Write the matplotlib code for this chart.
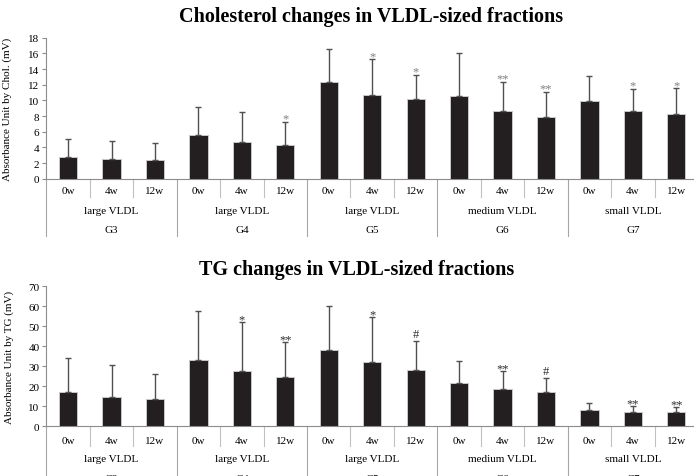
import numpy as np
import matplotlib
matplotlib.use("Agg")
import matplotlib.pyplot as plt

plt.rcParams['font.family'] = ['Liberation Serif', 'DejaVu Serif']

# Categories
groups = ['G3', 'G4', 'G5', 'G6', 'G7']
sizes = ['large VLDL', 'large VLDL', 'large VLDL', 'medium VLDL', 'small VLDL']
weeks = ['0w', '4w', '12w']

# Cholesterol (mV): mean, upper SD, significance marks
chol_mean = [2.8, 2.5, 2.4, 5.6, 4.7, 4.3, 12.3, 10.7, 10.2, 10.6, 8.6, 7.9, 9.9, 8.6, 8.2]
chol_sd = [2.3, 2.3, 2.1, 3.5, 3.8, 3.0, 4.3, 4.6, 3.1, 5.5, 3.8, 3.2, 3.2, 2.9, 3.4]
chol_sig = ['', '', '', '', '', '*', '', '*', '*', '', '**', '**', '', '*', '*']

# TG (mV)
tg_mean = [17.3, 14.7, 13.5, 33.2, 27.7, 24.7, 38.0, 32.0, 28.0, 21.8, 18.5, 17.0, 8.3, 7.3, 7.0]
tg_sd = [16.7, 15.8, 12.7, 24.5, 24.5, 17.3, 22.3, 22.5, 14.8, 11.0, 9.0, 7.2, 3.5, 2.7, 2.5]
tg_sig = ['', '', '', '', '*', '**', '', '*', '#', '', '**', '#', '', '**', '**']

W, H, DPI = 694, 477, 100
fig = plt.figure(figsize=(W / DPI, H / DPI), dpi=DPI)

GRAY_LINE = '#a6a6a6'
BAR = '#231f20'


def draw_panel(ax, means, sds, sig, ymax, ystep, ylabel, sig_color, rows_px, sep_px, ylab_x):
    n = len(means)
    x = np.arange(n)
    ax.bar(x, means, width=0.42, color=BAR, edgecolor='#c8c8c8', linewidth=0.7, zorder=2)
    ax.errorbar(x, means, yerr=[np.zeros(n), sds], fmt='none', ecolor='#505050',
                elinewidth=1.0, capsize=2.5, capthick=1.0, zorder=3)

    ax.set_xlim(-0.5, n - 0.5)
    ax.set_ylim(0, ymax)
    ax.set_yticks(np.arange(0, ymax + 0.1, ystep))
    ax.set_xticks([])
    for s in ['top', 'right']:
        ax.spines[s].set_visible(False)
    ax.spines['left'].set_color('#8c8c8c')
    ax.spines['bottom'].set_color('#8c8c8c')
    ax.tick_params(axis='y', colors='#8c8c8c', length=3, width=0.8, labelsize=8,
                   labelcolor='black', pad=2)
    ax.set_ylabel(ylabel, fontsize=8)
    ax.yaxis.set_label_coords(ylab_x, 0.5)

    # significance marks
    for i, s in enumerate(sig):
        if not s:
            continue
        off = 7 if s == '#' else 3
        ax.annotate(s, (x[i], means[i] + sds[i]), xytext=(0, off), textcoords='offset pixels',
                    ha='center', va='center', fontsize=9, color=sig_color)

    # hierarchical category axis
    h_px = ax.get_position().height * H
    tr = ax.get_xaxis_transform()
    for i in range(n):
        ax.text(x[i], -rows_px[0] / h_px, weeks[i % 3], transform=tr,
                ha='center', va='center', fontsize=8)
    for g in range(len(groups)):
        ax.text(3 * g + 1, -rows_px[1] / h_px, sizes[g], transform=tr,
                ha='center', va='center', fontsize=8)
        ax.text(3 * g + 1, -rows_px[2] / h_px, groups[g], transform=tr,
                ha='center', va='center', fontsize=8)
    for i in range(1, n):
        if i % 3:
            ax.plot([i - 0.5, i - 0.5], [0, -sep_px[0] / h_px], transform=tr,
                    color='#c0c0c0', lw=0.8, clip_on=False)
    for g in range(len(groups) + 1):
        xv = 3 * g - 0.5
        ax.plot([xv, xv], [0, -sep_px[1] / h_px], transform=tr,
                color=GRAY_LINE, lw=0.8, clip_on=False)


left = 46.4 / W
width = 651.6 / W

ax1 = fig.add_axes([left, 1 - 179.7 / H, width, 141.0 / H])
draw_panel(ax1, chol_mean, chol_sd, chol_sig, 18, 2, 'Absorbance Unit by Chol. (mV)',
           '#808080', (12, 32, 51), (18, 57), -0.053)

ax2 = fig.add_axes([left, 1 - 427.3 / H, width, 140.0 / H])
draw_panel(ax2, tg_mean, tg_sd, tg_sig, 70, 10, 'Absorbance Unit by TG (mV)',
           '#303030', (14, 32, 52), (20, 60), -0.049)

fig.text(371 / W, 1 - 17 / H, 'Cholesterol changes in VLDL-sized fractions',
         ha='center', va='center', fontsize=14.5, fontweight='bold')
fig.text(357 / W, 1 - 270 / H, 'TG changes in VLDL-sized fractions',
         ha='center', va='center', fontsize=14.5, fontweight='bold')

fig.savefig('out.png', dpi=DPI)
